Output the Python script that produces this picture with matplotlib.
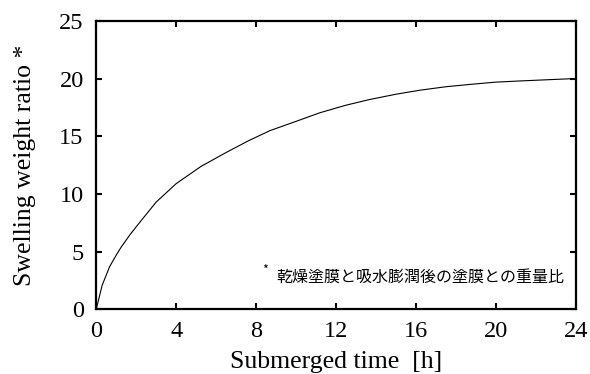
import numpy as np
import matplotlib
matplotlib.use("Agg")
import matplotlib.pyplot as plt

# data
time_h = [0.0, 0.3, 0.67, 1.0, 1.25, 1.7, 2.25, 3.0, 4.0, 5.25, 6.5, 7.6,
          8.7, 10.0, 11.2, 12.5, 13.7, 15.0, 16.2, 17.5, 18.7, 20.0, 21.2,
          22.5, 23.85, 24.0]
ratio = [0.0, 2.1, 3.7, 4.7, 5.4, 6.5, 7.7, 9.3, 10.9, 12.4, 13.6, 14.6,
         15.5, 16.3, 17.05, 17.7, 18.2, 18.65, 19.0, 19.3, 19.5, 19.7, 19.8,
         19.9, 20.0, 20.0]

x_ticks = [0, 4, 8, 12, 16, 20, 24]
y_ticks = [0, 5, 10, 15, 20, 25]

note = "乾燥塗膜と吸水膨潤後の塗膜との重量比"

serif = ["Liberation Serif", "DejaVu Serif"]
cjk = ["Noto Sans CJK JP", "DejaVu Sans"]

fig = plt.figure(figsize=(5.9, 3.74), dpi=100)
ax = fig.add_axes([0.163, 0.1725, 0.813, 0.7715])

ax.plot(time_h, ratio, color="black", linewidth=0.8)

ax.set_xlim(0, 24)
ax.set_ylim(0, 25)
ax.set_xticks(x_ticks)
ax.set_yticks(y_ticks)
ax.tick_params(direction="in", length=4, width=1.5, top=True, right=True,
               labelsize=17.5)
ax.tick_params(axis="y", pad=9)
ax.tick_params(axis="x", pad=8)
for lab in ax.get_xticklabels() + ax.get_yticklabels():
    lab.set_family(serif)
for sp in ax.spines.values():
    sp.set_linewidth(1.6)

ax.set_xlabel("Submerged time  [h]", fontsize=18.5, family=serif, labelpad=7)
ax.set_ylabel("Swelling weight ratio *", fontsize=18.5, family=serif, labelpad=17)

ax.text(0.977, 0.113, note, transform=ax.transAxes, ha="right", va="center",
        fontsize=11.5, family=cjk)
ax.text(0.352, 0.135, "*", transform=ax.transAxes, ha="center", va="center",
        fontsize=9, family=cjk)

fig.savefig("out.png", dpi=100)
